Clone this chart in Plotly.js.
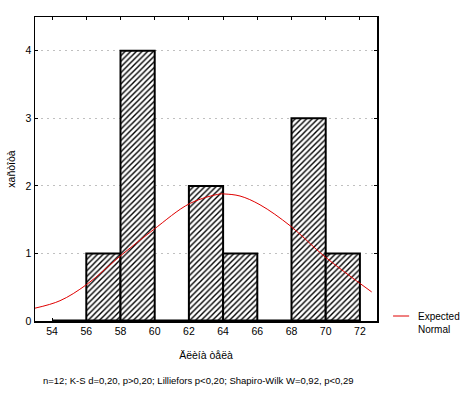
<!DOCTYPE html>
<html>
<head>
<meta charset="utf-8">
<script src="https://cdn.plot.ly/plotly-3.0.1.min.js"></script>
<style>html,body{margin:0;padding:0;background:#fff;}#chart{width:464px;height:394px;}</style>
</head>
<body>
<div id="chart"></div>
<script>
// Histogram bins (bin centres), counts
const binCenters = [55, 57, 59, 61, 63, 65, 67, 69, 71];
const binCounts  = [0, 1, 4, 0, 2, 1, 0, 3, 1];
const binWidth = 2;
// Expected normal curve
const normX = [53.0, 54.46, 56.02, 58.07, 59.92, 62.06, 63.82, 64.11, 64.99, 66.16, 67.92, 69.96, 72.69];
const normY = [0.19, 0.30, 0.54, 0.98, 1.35, 1.74, 1.88, 1.88, 1.85, 1.72, 1.41, 0.95, 0.43];
const xTicks = [54, 56, 58, 60, 62, 64, 66, 68, 70, 72];
const yTicks = [0, 1, 2, 3, 4];
const xTitle = "Äëèíà òåëà";
const yTitle = "xañòîòà";
const legendText = "Expected<br>Normal";
const footer = "n=12; K-S d=0,20, p>0,20; Lilliefors p<0,20; Shapiro-Wilk W=0,92, p<0,29";

const FONT = '"Liberation Sans", Arial, sans-serif';
const CURVE_COLOR = '#e00000';

const nz = binCounts.map(v => v > 0);
const bars = {
  type: 'bar',
  x: binCenters.filter((_, i) => nz[i]),
  y: binCounts.filter((_, i) => nz[i]),
  width: binWidth,
  marker: {
    color: '#fff',
    line: {color: '#000', width: 2},
    pattern: {shape: '/', fgcolor: '#000', bgcolor: '#fff', size: 4, solidity: 0.35}
  },
  showlegend: false,
  hoverinfo: 'skip'
};
const lo = binCenters[0] - binWidth / 2, hi = binCenters[binCenters.length - 1] + binWidth / 2;
const base = {
  type: 'scatter', mode: 'lines',
  x: [lo, hi], y: [0, 0],
  line: {color: '#000', width: 3},
  showlegend: false, hoverinfo: 'skip', cliponaxis: false
};
const curve = {
  type: 'scatter', mode: 'lines',
  x: normX, y: normY,
  line: {color: CURVE_COLOR, width: 1, shape: 'spline'},
  name: legendText, showlegend: false
};

const layout = {
  width: 464, height: 394,
  margin: {l: 35, r: 87, t: 17, b: 73, autoexpand: false},
  paper_bgcolor: '#fff', plot_bgcolor: '#fff',
  font: {family: FONT, size: 10.5, color: '#000'},
  bargap: 0,
  showlegend: false,
  xaxis: {
    range: [53, 73], tickvals: xTicks, ticktext: xTicks.map(String),
    showgrid: false, zeroline: false,
    showline: true, linecolor: '#000', linewidth: 1.5, mirror: 'ticks',
    ticks: 'inside', ticklen: 3, tickcolor: '#000',
    tickfont: {family: FONT, size: 10.5},
    title: {text: xTitle, font: {family: FONT, size: 10.5}, standoff: 15}
  },
  yaxis: {
    range: [0, 4.5], tickvals: yTicks, ticktext: yTicks.map(String),
    showgrid: true, gridcolor: '#c0c0c0', griddash: '2px,4px', gridwidth: 1,
    zeroline: false,
    showline: true, linecolor: '#000', linewidth: 1.5, mirror: 'ticks',
    ticks: 'inside', ticklen: 3, tickcolor: '#000',
    tickfont: {family: FONT, size: 10.5},
    title: {text: yTitle, font: {family: FONT, size: 10.5}, standoff: 8}
  },
  shapes: [{
    type: 'line', xref: 'paper', yref: 'paper',
    x0: 1.047, x1: 1.094, y0: 0.0164, y1: 0.0164,
    line: {color: CURVE_COLOR, width: 1}
  }],
  annotations: [{
    text: legendText, xref: 'paper', yref: 'paper',
    x: 1.114, y: -0.007, xanchor: 'left', yanchor: 'middle', align: 'left',
    showarrow: false, font: {family: FONT, size: 10}
  }, {
    text: footer, xref: 'paper', yref: 'paper',
    x: 0.477, y: -0.195, xanchor: 'center', yanchor: 'middle',
    showarrow: false, font: {family: FONT, size: 9.5}
  }]
};

Plotly.newPlot('chart', [bars, base, curve], layout, {staticPlot: true, displayModeBar: false});
</script>
</body>
</html>
